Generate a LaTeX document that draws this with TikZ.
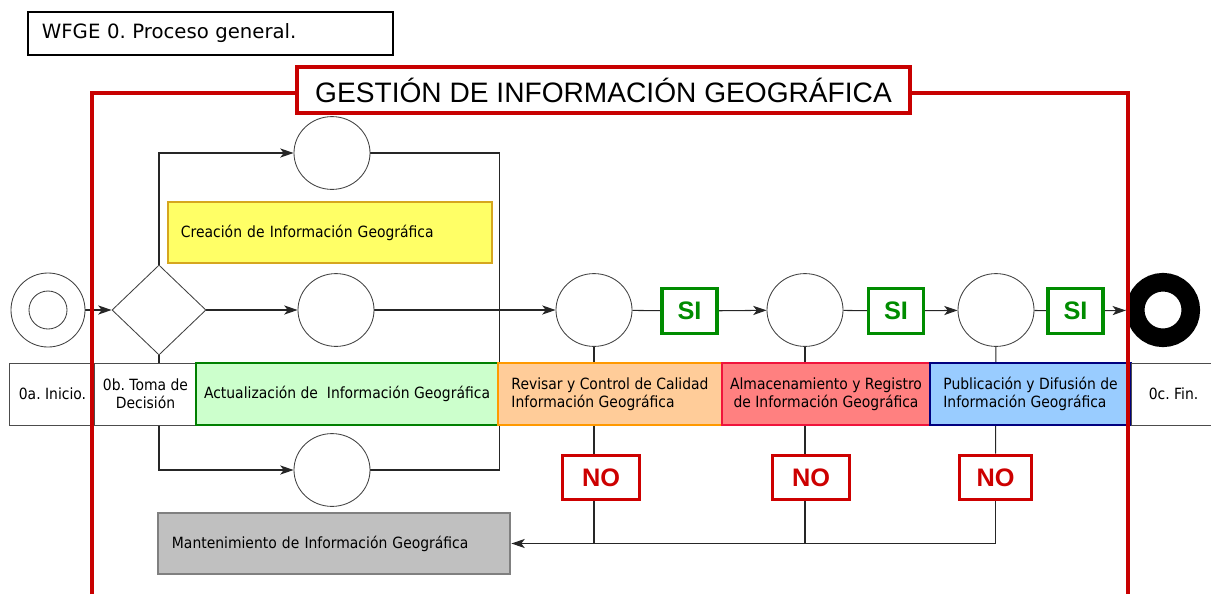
\documentclass[tikz,border=0pt]{standalone}
\usepackage{fontspec}
\setmainfont{DejaVu Sans}[FakeStretch=0.9]
\newfontfamily\arialfont{Liberation Sans}
\newfontfamily\widefont{DejaVu Sans}
\usetikzlibrary{shapes.geometric,arrows.meta,backgrounds}

\definecolor{frameRed}{RGB}{200,0,0}
\definecolor{siGreen}{RGB}{0,140,0}
\definecolor{noRed}{RGB}{205,0,0}
\definecolor{creaFill}{RGB}{255,255,102}
\definecolor{creaLine}{RGB}{214,166,30}
\definecolor{actFill}{RGB}{204,255,204}
\definecolor{actLine}{RGB}{0,128,0}
\definecolor{revFill}{RGB}{255,204,153}
\definecolor{revLine}{RGB}{255,153,0}
\definecolor{almFill}{RGB}{255,128,128}
\definecolor{almLine}{RGB}{240,20,60}
\definecolor{pubFill}{RGB}{153,204,255}
\definecolor{pubLine}{RGB}{0,0,128}
\definecolor{mantFill}{RGB}{192,192,192}
\definecolor{mantLine}{RGB}{128,128,128}

\tikzset{
  txt/.style={font=\fontsize{11}{13}\selectfont},
  flow/.style={draw=black!85, line width=0.75pt},
  arrow/.style={flow, -{Stealth[length=9.5pt,width=6.5pt,inset=2.5pt]}},
  event/.style={ellipse, draw=black!75, line width=0.6pt, fill=white, inner sep=0pt,
    minimum width=1.9cm, minimum height=1.82cm},
  stagebox/.style={rectangle, txt, draw=black!70, line width=0.7pt, fill=white,
    minimum height=1.55cm, inner sep=0pt, align=center},
  lanebox/.style={rectangle, txt, line width=2pt, minimum height=1.55cm, inner sep=0pt, align=left},
  notebox/.style={rectangle, txt, line width=2pt, minimum height=1.525cm, inner ysep=0pt, align=left},
  answer/.style={rectangle, fill=white, line width=2.2pt, minimum height=1.12cm, inner sep=0pt,
    font=\arialfont\bfseries\fontsize{18}{20}\selectfont},
  yesbox/.style={answer, draw=siGreen, text=siGreen, minimum width=1.375cm},
  nobox/.style={answer, draw=noRed, text=noRed, minimum width=1.93cm},
}

\begin{document}
\frenchspacing
\begin{tikzpicture}[x=0.025cm, y=-0.025cm]
  \useasboundingbox (0,0) rectangle (1211,594);

  % heading
  \node[draw=black, line width=1.4pt, minimum height=1.075cm, text width=8.425cm, inner xsep=0.35cm,
    inner ysep=0pt, font=\widefont\fontsize{14}{16}\selectfont] (wfge) at (210.5,33.5) {WFGE 0. Proceso general.};

  % events and gateway
  \node[circle, draw=black!75, line width=0.6pt, fill=white, minimum size=1.85cm, inner sep=0pt] (start) at (48,310) {};
  \node[circle, draw=black!75, line width=0.6pt, minimum size=0.95cm, inner sep=0pt] (startin) at (start) {};
  \node[diamond, draw=black!75, line width=0.6pt, fill=white, minimum width=2.35cm, minimum height=2.25cm,
    inner sep=0pt] (dec) at (159,310) {};
  \node[event] (ctop) at (332,153) {};
  \node[event] (cmid) at (336,310) {};
  \node[event] (cbot) at (332,470) {};
  \node[event] (c1) at (594,310) {};
  \node[event] (c2) at (805,310) {};
  \node[event] (c3) at (996,310) {};
  \node[circle, draw=black, line width=13.2pt, minimum size=1.39cm, inner sep=0pt] (fin) at (1163,310) {};

  % answers
  \node[yesbox] (si1) at (689.5,311) {SI};
  \node[yesbox] (si2) at (896,311) {SI};
  \node[yesbox] (si3) at (1075.5,311) {SI};
  \node[nobox] (no1) at (601,477.5) {NO};
  \node[nobox] (no2) at (811,477.5) {NO};
  \node[nobox, minimum width=1.78cm] (no3) at (995.5,477.5) {NO};

  % subprocesses
  \node[notebox, fill=creaFill, draw=creaLine, text width=7.45cm, inner xsep=0.325cm] (crea) at (330,232.5)
    {Creación de Información Geográfica};
  \node[stagebox, minimum width=2.125cm] (ini) at (52.5,394) {0a. Inicio.};
  \node[stagebox, minimum width=2.525cm] (toma) at (145.5,394) {0b. Toma de\\Decisión};
  \node[lanebox, fill=actFill, draw=actLine, minimum width=7.55cm] (act) at (347,394)
    {Actualización de~ Información Geográfica};
  \node[lanebox, fill=revFill, draw=revLine, minimum width=5.6cm] (rev) at (610,394)
    {Revisar y Control de Calidad\\Información Geográfica};
  \node[lanebox, fill=almFill, draw=almLine, minimum width=5.2cm, align=center] (alm) at (826,394)
    {Almacenamiento y Registro\\de Información Geográfica};
  \node[lanebox, fill=pubFill, draw=pubLine, minimum width=5.025cm] (pub) at (1030.5,394)
    {Publicación y Difusión de\\Información Geográfica};
  \node[stagebox, minimum width=2.1cm] (fin0) at (1173.5,394) {0c. Fin.};
  \node[notebox, fill=mantFill, draw=mantLine, text width=8.1cm, inner xsep=0.35cm] (mant) at (334,543.5)
    {Mantenimiento de Información Geográfica};

  % connectors
  \begin{scope}[on background layer]
    \draw[arrow] (start) -- (dec);
    \draw[arrow] (dec.north) |- (ctop);
    \draw[arrow] (dec) -- (cmid);
    \draw[arrow] (dec.south) |- (cbot);
    \draw[flow] (ctop) -| (act.east |- cbot) -- (cbot);
    \draw[arrow] (cmid) -- (c1);
    \draw[flow] (c1) -- (si1);
    \draw[arrow] (si1) -- (c2);
    \draw[flow] (c2) -- (si2);
    \draw[arrow] (si2) -- (c3);
    \draw[flow] (c3) -- (si3);
    \draw[arrow] (si3) -- (fin);
    \draw[flow] (c1) -- (c1 |- no1.north);
    \draw[flow] (c2) -- (c2 |- no2.north);
    \draw[flow] (c3) -- (no3);
    \draw[flow] (c1 |- no1.south) -- (c1 |- mant.east);
    \draw[flow] (c2 |- no2.south) -- (c2 |- mant.east);
    \draw[arrow] (no3) |- (mant);
  \end{scope}

  % frame
  \draw[frameRed, line width=2.8pt] (92,594) |- (1128,93) -- (1128,594);
  \node[draw=frameRed, line width=2.8pt, fill=white, minimum width=15.325cm, minimum height=1.15cm, inner sep=0pt,
    font=\arialfont\fontsize{20}{24}\selectfont] (gest) at (603.5,90) {GESTIÓN DE INFORMACIÓN GEOGRÁFICA};
\end{tikzpicture}
\end{document}
